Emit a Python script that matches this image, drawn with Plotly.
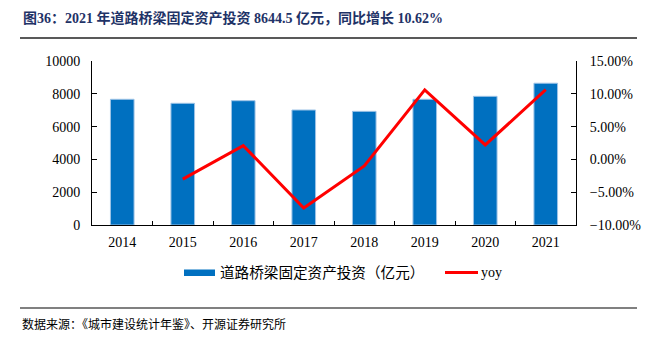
import plotly.graph_objects as go

years = ["2014", "2015", "2016", "2017", "2018", "2019", "2020", "2021"]
invest = [7665, 7420, 7580, 7012, 6930, 7665, 7845, 8644.5]
yoy_years = ["2015", "2016", "2017", "2018", "2019", "2020", "2021"]
yoy = [-0.0300, 0.0210, -0.0740, -0.0100, 0.1060, 0.0220, 0.1062]

title_text = "图36：2021 年道路桥梁固定资产投资 8644.5 亿元，同比增长 10.62%"
source_text = "数据来源：《城市建设统计年鉴》、开源证券研究所"
bar_name = "道路桥梁固定资产投资（亿元）"
line_name = "yoy"

BAR = "#0070C0"
RED = "#FF0000"
SERIF = "Liberation Serif, Times New Roman, Noto Sans CJK SC, serif"
CJK = "Liberation Serif, Noto Sans CJK SC, serif"

L, R, T, B = 92, 80, 61, 120
W, H = 656, 345
PW, PH = W - L - R, H - T - B

def px(x):
    return (x - L) / PW

def py(y):
    return (H - B - y) / PH

fig = go.Figure()
fig.add_trace(go.Bar(x=years, y=invest, name=bar_name, marker=dict(color=BAR, line=dict(color="#9DC3E6", width=1)),
                     width=0.39, showlegend=False))
fig.add_trace(go.Scatter(x=yoy_years, y=yoy, name=line_name, yaxis="y2", mode="lines",
                         line=dict(color=RED, width=3), showlegend=False))

axis_line = "#000000"
fig.update_layout(
    width=W, height=H,
    margin=dict(l=L, r=R, t=T, b=B, pad=0),
    paper_bgcolor="white", plot_bgcolor="white",
    font=dict(family=SERIF, size=14, color="#000000"),
    xaxis=dict(type="category", showline=True, linecolor=axis_line, linewidth=1,
               ticks="inside", tickson="boundaries", ticklen=4, tickcolor=axis_line,
               showgrid=False, tickfont=dict(size=14), ticklabelstandoff=4),
    yaxis=dict(range=[0, 10000], dtick=2000, tickformat="d", showline=True, linecolor=axis_line, linewidth=1,
               ticks="inside", ticklen=5, tickcolor=axis_line, showgrid=False, zeroline=False,
               tickfont=dict(size=14), ticklabelstandoff=8),
    yaxis2=dict(range=[-0.10, 0.15], dtick=0.05, tickformat=".2%", overlaying="y", side="right",
                showline=True, linecolor=axis_line, linewidth=1, ticks="inside", ticklen=5,
                tickcolor=axis_line, showgrid=False, zeroline=False, tickfont=dict(size=14),
                ticklabelstandoff=10),
    bargap=0.61,
)

shapes = [
    dict(type="line", xref="paper", yref="paper", x0=px(20), x1=px(637), y0=py(38), y1=py(38),
         line=dict(color="#222222", width=1.5)),
    dict(type="line", xref="paper", yref="paper", x0=px(20), x1=px(637), y0=py(308), y1=py(308),
         line=dict(color="#808080", width=2)),
    dict(type="rect", xref="paper", yref="paper", x0=px(184), x1=px(215), y0=py(276), y1=py(269.5),
         fillcolor=BAR, line=dict(width=0)),
    dict(type="line", xref="paper", yref="paper", x0=px(445), x1=px(478), y0=py(272.5), y1=py(272.5),
         line=dict(color=RED, width=3)),
]
fig.update_layout(shapes=shapes)

annotations = [
    dict(text="<b>" + title_text + "</b>", xref="paper", yref="paper", x=px(21), y=py(18),
         xanchor="left", yanchor="middle", showarrow=False,
         font=dict(family=CJK, size=14, color="#1F3367")),
    dict(text=bar_name, xref="paper", yref="paper", x=px(218), y=py(273),
         xanchor="left", yanchor="middle", showarrow=False, font=dict(family=CJK, size=14.6)),
    dict(text=line_name, xref="paper", yref="paper", x=px(479), y=py(272),
         xanchor="left", yanchor="middle", showarrow=False, font=dict(family=SERIF, size=14)),
    dict(text=source_text, xref="paper", yref="paper", x=px(20), y=py(323),
         xanchor="left", yanchor="middle", showarrow=False,
         font=dict(family="Noto Sans CJK SC", size=12, color="#000000")),
]
fig.update_layout(annotations=annotations)

fig.write_html("out.html")
